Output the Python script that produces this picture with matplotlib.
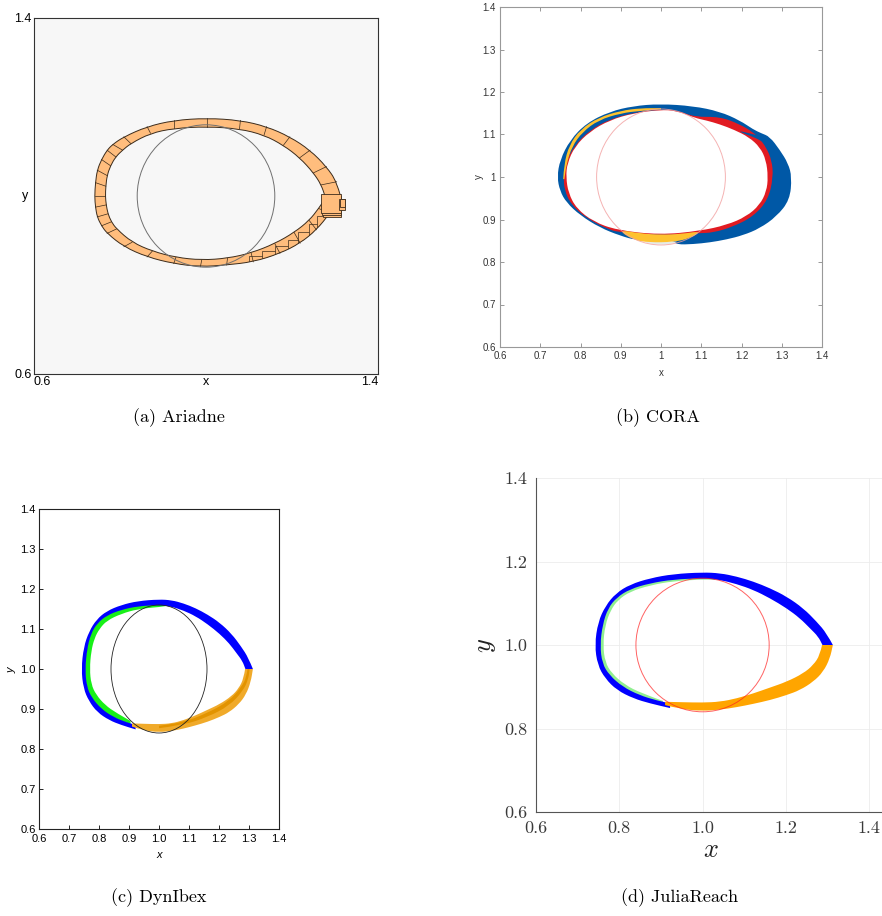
import matplotlib
matplotlib.use('Agg')
import matplotlib.pyplot as plt
from matplotlib.patches import Circle, Rectangle, PathPatch
from matplotlib.path import Path

plt.rcParams['mathtext.fontset'] = 'cm'
plt.rcParams['axes.formatter.use_mathtext'] = True

# ---------------- data ----------------
circle_center = (1.0, 1.0)
circle_radius = 0.16

captions = ['(a) Ariadne', '(b) CORA', '(c) DynIbex', '(d) JuliaReach']

# Ariadne flowpipe: outer / inner boundary stations (counter-clockwise from the right)
ari_outer = [(1.313, 0.999), (1.304, 1.032), (1.280, 1.066), (1.242, 1.103), (1.195, 1.133),
             (1.141, 1.156), (1.080, 1.170), (1.002, 1.175), (0.925, 1.170), (0.863, 1.156),
             (0.809, 1.133), (0.783, 1.116), (0.770, 1.103), (0.757, 1.082), (0.747, 1.058),
             (0.743, 1.030), (0.741, 0.999), (0.743, 0.975), (0.747, 0.953), (0.757, 0.933),
             (0.770, 0.916), (0.809, 0.886), (0.863, 0.863), (0.925, 0.848), (0.987, 0.841),
             (1.048, 0.845), (1.110, 0.852), (1.172, 0.871), (1.219, 0.894), (1.257, 0.924),
             (1.288, 0.961), (1.304, 0.984)]
ari_inner = [(1.277, 0.999), (1.268, 1.025), (1.250, 1.052), (1.218, 1.086), (1.180, 1.114),
             (1.135, 1.137), (1.078, 1.151), (1.002, 1.156), (0.925, 1.152), (0.871, 1.141),
             (0.825, 1.118), (0.806, 1.103), (0.790, 1.088), (0.778, 1.068), (0.770, 1.046),
             (0.767, 1.022), (0.766, 0.999), (0.768, 0.980), (0.772, 0.960), (0.780, 0.942),
             (0.792, 0.926), (0.828, 0.896), (0.875, 0.876), (0.930, 0.862), (0.990, 0.856),
             (1.050, 0.860), (1.105, 0.872), (1.160, 0.893), (1.205, 0.918), (1.240, 0.945),
             (1.262, 0.972), (1.273, 0.988)]
# staircase boxes (x0, y0, w, h) on the lower right, clipped to the band
ari_stairs = [(1.100, 0.836, 0.05, 0.030), (1.130, 0.846, 0.05, 0.030),
              (1.160, 0.858, 0.05, 0.030), (1.190, 0.872, 0.05, 0.030),
              (1.215, 0.888, 0.05, 0.030), (1.240, 0.906, 0.05, 0.030),
              (1.258, 0.925, 0.05, 0.030)]
# cluster of boxes at the right end
ari_blob = [(1.273, 0.953, 0.040, 0.043), (1.270, 0.957, 0.043, 0.044),
            (1.267, 0.961, 0.046, 0.044), (1.310, 0.968, 0.014, 0.026),
            (1.312, 0.975, 0.012, 0.018)]

# CORA sets (closed outlines, drawn on top of each other)
cora_blue = [(1.325, 1.000), (1.316, 1.032), (1.295, 1.064), (1.270, 1.095), (1.249, 1.103),
             (1.229, 1.112), (1.196, 1.133), (1.146, 1.154), (1.080, 1.167), (0.997, 1.172),
             (0.931, 1.167), (0.873, 1.154), (0.815, 1.127), (0.774, 1.087), (0.749, 1.040),
             (0.742, 1.000), (0.749, 0.967), (0.765, 0.940), (0.799, 0.910), (0.848, 0.881),
             (0.898, 0.862), (0.939, 0.851), (0.970, 0.855), (1.000, 0.856), (1.030, 0.850),
             (1.039, 0.841), (1.080, 0.842), (1.121, 0.846), (1.163, 0.853), (1.204, 0.863),
             (1.245, 0.879), (1.287, 0.907), (1.320, 0.946)]
cora_red = [(1.279, 1.000), (1.275, 1.040), (1.261, 1.070), (1.245, 1.090), (1.229, 1.105),
            (1.196, 1.124), (1.146, 1.142), (1.084, 1.141), (1.039, 1.157), (0.997, 1.159),
            (0.931, 1.151), (0.873, 1.136), (0.823, 1.110), (0.786, 1.075), (0.762, 1.032),
            (0.758, 1.000), (0.760, 0.970), (0.776, 0.936), (0.815, 0.903), (0.873, 0.875),
            (0.900, 0.870), (1.000, 0.862), (1.096, 0.868), (1.129, 0.869), (1.179, 0.883),
            (1.229, 0.907), (1.266, 0.946)]
cora_hole = [(1.266, 1.000), (1.261, 1.040), (1.246, 1.070), (1.218, 1.094), (1.182, 1.111),
             (1.146, 1.124), (1.113, 1.133), (1.084, 1.139), (1.039, 1.156), (0.997, 1.158),
             (0.931, 1.150), (0.873, 1.134), (0.823, 1.107), (0.786, 1.072), (0.767, 1.032),
             (0.764, 1.000), (0.770, 0.962), (0.790, 0.926), (0.832, 0.895), (0.890, 0.875),
             (0.997, 0.864), (1.096, 0.873), (1.163, 0.887), (1.212, 0.907), (1.245, 0.934),
             (1.262, 0.966)]
cora_tongue = [(1.190, 1.109), (1.215, 1.104), (1.240, 1.098), (1.262, 1.090), (1.274, 1.075),
               (1.258, 1.080), (1.235, 1.092), (1.212, 1.100)]
cora_yellow_top_out = [(0.757, 0.995), (0.759, 1.030), (0.772, 1.075), (0.800, 1.112),
                       (0.845, 1.140), (0.900, 1.156), (0.950, 1.162), (1.000, 1.162)]
cora_yellow_top_in = [(0.760, 0.995), (0.765, 1.030), (0.779, 1.072), (0.805, 1.106),
                      (0.845, 1.134), (0.900, 1.150), (0.950, 1.156), (1.000, 1.159)]
cora_yellow_bot = [(0.893, 0.876), (0.950, 0.867), (1.000, 0.864), (1.050, 0.866), (1.102, 0.873),
                   (1.070, 0.855), (1.030, 0.847), (0.970, 0.846), (0.930, 0.852)]
cora_gray = [(0.955, 0.849), (1.000, 0.848), (1.045, 0.849), (1.030, 0.843), (1.000, 0.840),
             (0.970, 0.843)]

# DynIbex / JuliaReach flowpipe pieces
blue_outer = [(1.313, 1.000), (1.298, 1.028), (1.274, 1.056), (1.242, 1.088), (1.202, 1.116),
              (1.162, 1.136), (1.122, 1.152), (1.082, 1.164), (1.042, 1.172), (1.000, 1.174),
              (0.930, 1.170), (0.874, 1.160), (0.826, 1.145), (0.792, 1.124), (0.767, 1.094),
              (0.749, 1.055), (0.741, 1.000), (0.748, 0.952), (0.766, 0.920), (0.794, 0.892),
              (0.834, 0.872), (0.874, 0.860), (0.922, 0.849)]
blue_inner = [(1.288, 1.000), (1.278, 1.020), (1.258, 1.040), (1.234, 1.064), (1.202, 1.088),
              (1.162, 1.112), (1.122, 1.132), (1.082, 1.146), (1.042, 1.156), (1.000, 1.160),
              (0.930, 1.157), (0.874, 1.148), (0.826, 1.134), (0.794, 1.114), (0.773, 1.088),
              (0.760, 1.049), (0.754, 1.000), (0.759, 0.956), (0.776, 0.928), (0.808, 0.900),
              (0.848, 0.880), (0.890, 0.867), (0.922, 0.860)]
green_outer = [(1.030, 1.158), (1.000, 1.162), (0.930, 1.159), (0.874, 1.150), (0.826, 1.136),
               (0.794, 1.116), (0.771, 1.089), (0.758, 1.049), (0.752, 1.000), (0.757, 0.955),
               (0.774, 0.926), (0.806, 0.898), (0.846, 0.878), (0.905, 0.862)]
green_inner = [(1.030, 1.156), (1.000, 1.157), (0.930, 1.153), (0.874, 1.143), (0.826, 1.128),
               (0.797, 1.108), (0.779, 1.083), (0.766, 1.047), (0.761, 1.000), (0.766, 0.959),
               (0.782, 0.932), (0.813, 0.905), (0.852, 0.885), (0.905, 0.866)]
dyn_green_inner = [(1.000, 1.155), (0.930, 1.150), (0.874, 1.138), (0.826, 1.121), (0.801, 1.100),
                   (0.785, 1.077), (0.774, 1.045), (0.769, 1.000), (0.774, 0.962), (0.790, 0.936),
                   (0.820, 0.910), (0.858, 0.890), (0.905, 0.870)]
orange_outer = [(0.910, 0.856), (0.950, 0.846), (1.000, 0.842), (1.042, 0.845), (1.082, 0.851),
                (1.122, 0.859), (1.162, 0.868), (1.202, 0.880), (1.234, 0.892), (1.266, 0.912),
                (1.290, 0.936), (1.306, 0.968), (1.313, 1.000)]
orange_inner = [(0.910, 0.864), (0.950, 0.863), (1.000, 0.862), (1.042, 0.864), (1.082, 0.872),
                (1.122, 0.884), (1.162, 0.898), (1.202, 0.912), (1.242, 0.932), (1.266, 0.952),
                (1.282, 0.976), (1.287, 1.000)]
# darker core strip of the DynIbex orange set
dyn_orange_core_out = [(1.000, 0.852), (1.082, 0.860), (1.162, 0.880), (1.234, 0.908),
                       (1.280, 0.945), (1.298, 0.975), (1.302, 1.000)]
dyn_orange_core_in = [(1.000, 0.858), (1.082, 0.867), (1.162, 0.890), (1.234, 0.920),
                      (1.275, 0.955), (1.292, 0.980), (1.295, 1.000)]

cora_ticks = [0.6, 0.7, 0.8, 0.9, 1.0, 1.1, 1.2, 1.3, 1.4]
cora_ticklabels = ['0.6', '0.7', '0.8', '0.9', '1', '1.1', '1.2', '1.3', '1.4']
dyn_ticks = [0.6, 0.7, 0.8, 0.9, 1.0, 1.1, 1.2, 1.3, 1.4]
dyn_ticklabels = ['0.6', '0.7', '0.8', '0.9', '1.0', '1.1', '1.2', '1.3', '1.4']
jr_ticks = [0.6, 0.8, 1.0, 1.2, 1.4]
jr_ticklabels = ['0.6', '0.8', '1.0', '1.2', '1.4']

W, H = 882, 916
fig = plt.figure(figsize=(W / 100, H / 100), dpi=100)

SANS = 'Liberation Sans'


def add_axes_px(left, top, right, bottom):
    return fig.add_axes([left / W, 1 - bottom / H, (right - left) / W, (bottom - top) / H])


def chain(pts):
    # quadratic bezier through the midpoints, read points act as control points
    verts = [pts[0]]
    codes = [Path.LINETO]
    for i in range(1, len(pts) - 1):
        mid = ((pts[i][0] + pts[i + 1][0]) / 2, (pts[i][1] + pts[i + 1][1]) / 2)
        verts += [pts[i], mid]
        codes += [Path.CURVE3, Path.CURVE3]
    verts.append(pts[-1])
    codes.append(Path.LINETO)
    return verts, codes


def band(outer, inner, **kw):
    v1, c1 = chain(list(outer))
    v2, c2 = chain(list(reversed(inner)))
    c1[0] = Path.MOVETO
    verts = v1 + v2 + [v1[0]]
    codes = c1 + c2 + [Path.CLOSEPOLY]
    return PathPatch(Path(verts, codes), **kw)


def loop(pts, **kw):
    n = len(pts)
    mids = [((pts[i][0] + pts[(i + 1) % n][0]) / 2, (pts[i][1] + pts[(i + 1) % n][1]) / 2)
            for i in range(n)]
    verts = [mids[-1]]
    codes = [Path.MOVETO]
    for i in range(n):
        verts += [pts[i], mids[i]]
        codes += [Path.CURVE3, Path.CURVE3]
    verts.append(mids[-1])
    codes.append(Path.CLOSEPOLY)
    return PathPatch(Path(verts, codes), **kw)


def ring(ax, color, lw, alpha=1.0):
    ax.add_patch(Circle(circle_center, circle_radius, fill=False, edgecolor=color,
                        lw=lw, alpha=alpha, zorder=6))


# ---------------- (a) Ariadne ----------------
ax = add_axes_px(34, 18, 378, 374)
ax.set_facecolor('#f7f7f7')
ax.set_xlim(0.6, 1.4)
ax.set_ylim(0.6, 1.4)
for s in ax.spines.values():
    s.set_color('#333333')
    s.set_linewidth(0.8)
edge = '#3b2b1b'
fillc = '#ffbd7d'
body = ax.add_patch(band(ari_outer, ari_inner, facecolor=fillc, edgecolor='none', zorder=1))
for x0, y0, w, h in ari_stairs:
    r = ax.add_patch(Rectangle((x0, y0), w, h, facecolor=fillc, edgecolor=edge, lw=0.5, zorder=2))
    r.set_clip_path(body)
for (xo, yo), (xi, yi) in zip(ari_outer, ari_inner):
    ax.plot([xo, xi], [yo, yi], color=edge, lw=0.5, zorder=3)
ax.add_patch(band(ari_outer, ari_inner, facecolor='none', edgecolor=edge, lw=0.7, zorder=4))
for x0, y0, w, h in ari_blob:
    ax.add_patch(Rectangle((x0, y0), w, h, facecolor=fillc, edgecolor=edge, lw=0.6, zorder=5))
ring(ax, '#707070', 0.7)
ax.set_xticks([0.6, 1.4])
ax.set_yticks([0.6, 1.4])
ax.set_xticklabels(['0.6', '1.4'], fontsize=9, family=SANS)
ax.set_yticklabels(['0.6', '1.4'], fontsize=9, family=SANS)
ax.tick_params(length=0, pad=1.5)
xl = ax.get_xticklabels()
xl[0].set_ha('left')
xl[1].set_ha('right')
ax.text(0.5, -0.006, 'x', transform=ax.transAxes, ha='center', va='top', fontsize=9, family=SANS)
ax.text(-0.018, 0.5, 'y', transform=ax.transAxes, ha='right', va='center', fontsize=9, family=SANS)

# ---------------- (b) CORA ----------------
ax = add_axes_px(500, 7, 822, 347)
ax.set_xlim(0.6, 1.4)
ax.set_ylim(0.6, 1.4)
for s in ax.spines.values():
    s.set_color('#999999')
    s.set_linewidth(0.8)
cblue = '#0058a6'
ax.add_patch(loop(cora_blue, facecolor=cblue, edgecolor='none', zorder=1))
ax.add_patch(loop(cora_red, facecolor='#e11b22', edgecolor='none', zorder=2))
ax.add_patch(loop(cora_hole, facecolor='white', edgecolor='none', zorder=3))
ax.add_patch(loop(cora_tongue, facecolor=cblue, edgecolor='none', zorder=3))
ax.add_patch(band(cora_yellow_top_out, cora_yellow_top_in, facecolor='#fec22e',
                  edgecolor='none', zorder=4))
ax.add_patch(loop(cora_gray, facecolor='#e6ebe8', edgecolor='none', zorder=4))
ax.add_patch(loop(cora_yellow_bot, facecolor='#fec22e', edgecolor='none', zorder=5))
ring(ax, '#f2a0a0', 0.7, 0.8)
ax.set_xticks(cora_ticks)
ax.set_yticks(cora_ticks)
ax.set_xticklabels(cora_ticklabels, fontsize=7, family=SANS, color='#333333')
ax.set_yticklabels(cora_ticklabels, fontsize=7, family=SANS, color='#333333')
ax.tick_params(direction='in', length=3, width=0.6, color='#888888', top=True, right=True, pad=3)
ax.text(0.5, -0.077, 'x', transform=ax.transAxes, ha='center', va='center', fontsize=7,
        family=SANS, color='#333333')
ax.text(-0.066, 0.5, 'y', transform=ax.transAxes, ha='center', va='center', fontsize=7,
        family=SANS, color='#333333', rotation=90)

# ---------------- (c) DynIbex ----------------
ax = add_axes_px(39, 509, 279, 829)
ax.set_xlim(0.6, 1.4)
ax.set_ylim(0.6, 1.4)
for s in ax.spines.values():
    s.set_color('#222222')
    s.set_linewidth(0.8)
ax.add_patch(band(green_outer, dyn_green_inner, facecolor='#18f018', edgecolor='none', zorder=1))
ax.add_patch(band(blue_outer, blue_inner, facecolor='#0000ff', edgecolor='none', zorder=2))
ax.add_patch(band(orange_outer, orange_inner, facecolor='#f0aa2a', edgecolor='none', zorder=3))
ax.add_patch(band(dyn_orange_core_out, dyn_orange_core_in, facecolor='#e29300',
                  edgecolor='none', zorder=3))
ring(ax, '#222222', 0.6)
ax.set_xticks(dyn_ticks)
ax.set_yticks(dyn_ticks)
ax.set_xticklabels(dyn_ticklabels, fontsize=8, family=SANS)
ax.set_yticklabels(dyn_ticklabels, fontsize=8, family=SANS)
ax.tick_params(axis='x', direction='in', length=3, width=0.6, pad=3.5)
ax.tick_params(axis='y', direction='in', length=3, width=0.6, pad=2.5)
ax.text(0.5, -0.082, 'x', transform=ax.transAxes, ha='center', va='center', fontsize=8,
        family=SANS, style='italic')
ax.text(-0.115, 0.497, 'y', transform=ax.transAxes, ha='center', va='center', fontsize=8,
        family=SANS, style='italic', rotation=90)

# ---------------- (d) JuliaReach ----------------
ax = add_axes_px(536, 478, 882, 812)
ax.set_xlim(0.6, 1.431)
ax.set_ylim(0.6, 1.4)
ax.spines['top'].set_visible(False)
ax.spines['right'].set_visible(False)
for side in ('left', 'bottom'):
    ax.spines[side].set_color('#555555')
    ax.spines[side].set_linewidth(0.8)
ax.grid(True, color='#ececec', lw=0.6)
ax.set_axisbelow(True)
ax.add_patch(band(green_outer, green_inner, facecolor='#90ee90', edgecolor='none', zorder=1))
ax.add_patch(band(blue_outer, blue_inner, facecolor='#0000ff', edgecolor='none', zorder=2))
ax.add_patch(band(orange_outer, orange_inner, facecolor='#ffa500', edgecolor='none', zorder=3))
ring(ax, '#ff2020', 0.7, 0.7)
ax.set_xticks(jr_ticks)
ax.set_yticks(jr_ticks)
ax.set_xticklabels(jr_ticklabels, fontsize=13, family='cmr10', color='#3a3a3a')
ax.set_yticklabels(jr_ticklabels, fontsize=13, family='cmr10', color='#3a3a3a')
ax.tick_params(length=0, pad=6)
ax.text(0.506, -0.114, '$x$', transform=ax.transAxes, ha='center', va='center', fontsize=19,
        color='#222222')
ax.text(-0.147, 0.5, '$y$', transform=ax.transAxes, ha='center', va='center', fontsize=19,
        color='#222222', rotation=90)

# ---------------- captions ----------------
for label, (cx, cy) in zip(captions, [(179, 418), (658, 418), (159, 898), (680, 898)]):
    fig.text(cx / W, 1 - cy / H, label, ha='center', va='center', fontsize=13, family='cmr10')

fig.savefig('out.png', dpi=100)
